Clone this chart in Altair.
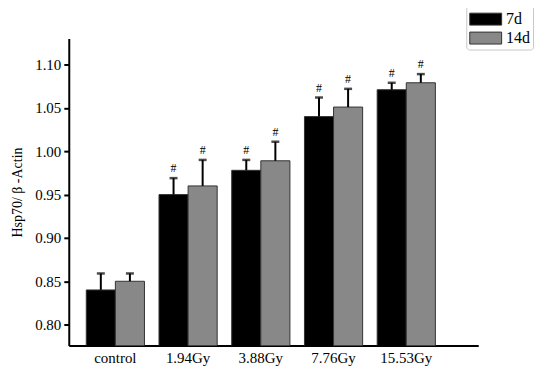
import altair as alt
import pandas as pd

groups = ["control", "1.94Gy", "3.88Gy", "7.76Gy", "15.53Gy"]
series = ["7d", "14d"]
mean_7d = [0.840, 0.950, 0.978, 1.040, 1.071]
err_7d = [0.019, 0.019, 0.012, 0.022, 0.008]
mean_14d = [0.850, 0.960, 0.989, 1.051, 1.079]
err_14d = [0.009, 0.030, 0.022, 0.021, 0.010]
sig = ["", "#", "#", "#", "#"]
y_ticks = [0.80, 0.85, 0.90, 0.95, 1.00, 1.05, 1.10]

rows = []
for i, g in enumerate(groups):
    rows.append({"group": g, "series": "7d", "mean": mean_7d[i], "top": mean_7d[i] + err_7d[i], "sig": sig[i]})
    rows.append({"group": g, "series": "14d", "mean": mean_14d[i], "top": mean_14d[i] + err_14d[i], "sig": sig[i]})
df = pd.DataFrame(rows)

FONT = "Liberation Serif"

x = alt.X("group:N", sort=groups, title=None,
          scale=alt.Scale(paddingInner=0.2, paddingOuter=0.415, align=0.29),
          axis=alt.Axis(labelAngle=0, ticks=False, labelPadding=5, labelFontSize=15,
                        labelFont=FONT, labelColor="#000", domainColor="#000", domainWidth=2))
xo = alt.XOffset("series:N", sort=series, scale=alt.Scale(paddingInner=0, paddingOuter=0))
yscale = alt.Scale(domain=[0.776, 1.13], nice=False, zero=False)

base = alt.Chart(df)

bars = base.mark_bar(stroke="#333", strokeWidth=1, clip=True).encode(
    x=x, xOffset=xo,
    y=alt.Y("mean:Q", scale=yscale, title="Hsp70/ β -Actin",
            axis=alt.Axis(values=y_ticks, format=".2f", grid=False, tickSize=5, tickWidth=2,
                          tickColor="#000", domainColor="#000", domainWidth=2,
                          labelFont=FONT, labelFontSize=15, labelColor="#000", labelPadding=3,
                          titleFont=FONT, titleFontSize=14, titleFontWeight="normal",
                          titleColor="#000", titlePadding=10)),
    color=alt.Color("series:N", sort=series,
                    scale=alt.Scale(domain=series, range=["#000000", "#888888"]),
                    legend=alt.Legend(title=None, orient="none", legendX=399, legendY=-33,
                                      symbolType="M-1,-0.6H2.2V0.6H-1Z", symbolSize=400,
                                      symbolStrokeColor="#333", symbolStrokeWidth=1,
                                      symbolOpacity=1,
                                      labelFont=FONT, labelFontSize=16, labelColor="#000",
                                      padding=3, rowPadding=0, labelOffset=16,
                                      strokeColor="#c8c8c8", fillColor="white", cornerRadius=3)),
)

rules = base.mark_rule(color="#000", strokeWidth=2).encode(
    x=x, xOffset=xo,
    y=alt.Y("mean:Q", scale=yscale),
    y2="top:Q",
)

caps = base.mark_tick(color="#000", thickness=2.5, size=8, orient="horizontal").encode(
    x=x, xOffset=xo,
    y=alt.Y("top:Q", scale=yscale),
)

marks = base.mark_text(font=FONT, fontSize=12, baseline="bottom", dy=-3, color="#000").encode(
    x=x, xOffset=xo,
    y=alt.Y("top:Q", scale=yscale),
    text="sig:N",
)

chart = alt.layer(bars, rules, caps, marks).properties(
    width=411, height=308,
    background="white",
    autosize=alt.AutoSizeParams(type="none"),
    padding={"left": 61, "top": 30, "right": 60, "bottom": 26},
).configure_view(stroke="transparent", strokeWidth=0)

chart.save("out.html", embed_options={"renderer": "svg", "actions": False})
